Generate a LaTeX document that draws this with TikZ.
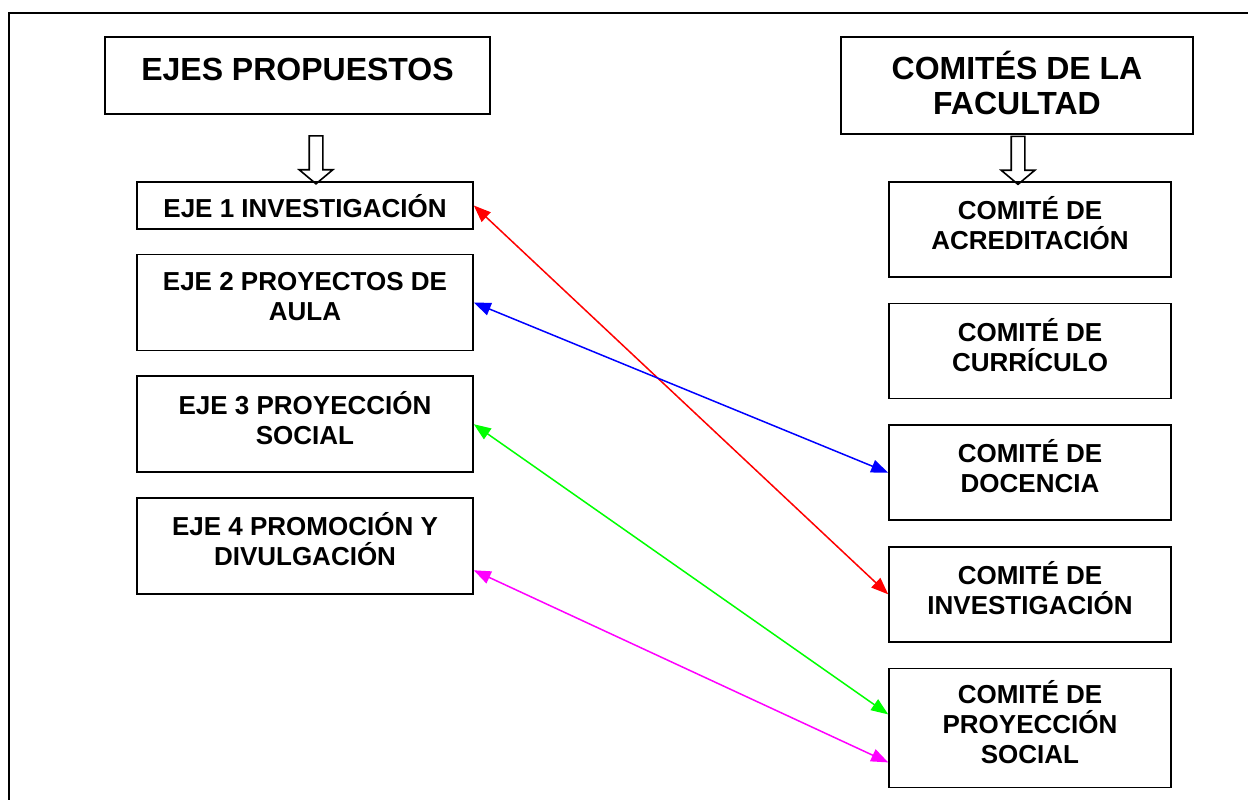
\documentclass[tikz,border=0pt]{standalone}
\usepackage{fontspec}
\setmainfont{Liberation Sans}
\usetikzlibrary{arrows.meta, positioning, shapes.arrows}
\definecolor{rojo}{RGB}{255,0,0}
\definecolor{azul}{RGB}{0,0,255}
\definecolor{verde}{RGB}{0,255,0}
\definecolor{rosa}{RGB}{255,0,255}

\begin{document}
\begin{tikzpicture}[
    x=1pt, y=-1pt,
    every node/.style={font=\bfseries\fontsize{26}{30}\selectfont, align=center, line width=1.6pt},
    caja/.style={draw, minimum width=336pt, minimum height=96pt, text depth=13pt},
    comite/.style={draw, minimum width=282pt, minimum height=95pt, text depth=13pt},
    titulo/.style={draw, font=\bfseries\fontsize{32}{35}\selectfont},
    bajada/.style={draw, single arrow, shape border rotate=270, minimum height=48pt,
      inner sep=6pt, single arrow head extend=10pt, single arrow tip angle=100},
    enlace/.style={line width=1.5pt, {Triangle[length=17pt,width=13pt]}-{Triangle[length=17pt,width=13pt]}}
  ]

  \useasboundingbox (0,0) rectangle (1248,800);
  \draw[line width=1.6pt] (9,13) rectangle (1258,810);

  % Titulos
  \node[titulo, minimum width=385pt, minimum height=77pt, text depth=12pt] (ejes) at (297.5,75.5) {EJES PROPUESTOS};
  \node[titulo, minimum width=352pt, minimum height=97pt, text depth=6pt] (comites) at (1017,85.5) {COMITÉS DE LA\\FACULTAD};

  % Flechas
  \node[bajada] (bajada1) at (316,157) {};
  \node[bajada] (bajada2) at (1018,157.5) {};

  % Ejes
  \node[caja, minimum height=47pt, text depth=0pt] (eje1) at (305,205.5) {EJE 1 INVESTIGACIÓN};
  \node[caja, below=24pt of eje1] (eje2) {EJE 2 PROYECTOS DE\\AULA};
  \node[caja, below=24pt of eje2] (eje3) {EJE 3 PROYECCIÓN\\SOCIAL};
  \node[caja, below=24pt of eje3] (eje4) {EJE 4 PROMOCIÓN Y\\DIVULGACIÓN};

  % Comites
  \node[comite] (acreditacion) at (1030,229.5) {COMITÉ DE\\ACREDITACIÓN};
  \node[comite, below=25pt of acreditacion] (curriculo) {COMITÉ DE\\CURRÍCULO};
  \node[comite, below=25pt of curriculo] (docencia) {COMITÉ DE\\DOCENCIA};
  \node[comite, below=25pt of docencia] (investigacion) {COMITÉ DE\\INVESTIGACIÓN};
  \node[comite, minimum height=119pt, text depth=12pt, below=25pt of investigacion] (proyeccion) {COMITÉ DE\\PROYECCIÓN\\SOCIAL};

  % Relaciones
  \draw[enlace, rojo] (eje1.east) -- (investigacion.west);
  \draw[enlace, azul] (eje2.east) -- (docencia.west);
  \draw[enlace, verde] (eje3.east) -- ([yshift=13.5pt]proyeccion.west);
  \draw[enlace, rosa] ([yshift=-24.5pt]eje4.east) -- ([yshift=-34.5pt]proyeccion.west);

\end{tikzpicture}
\end{document}
